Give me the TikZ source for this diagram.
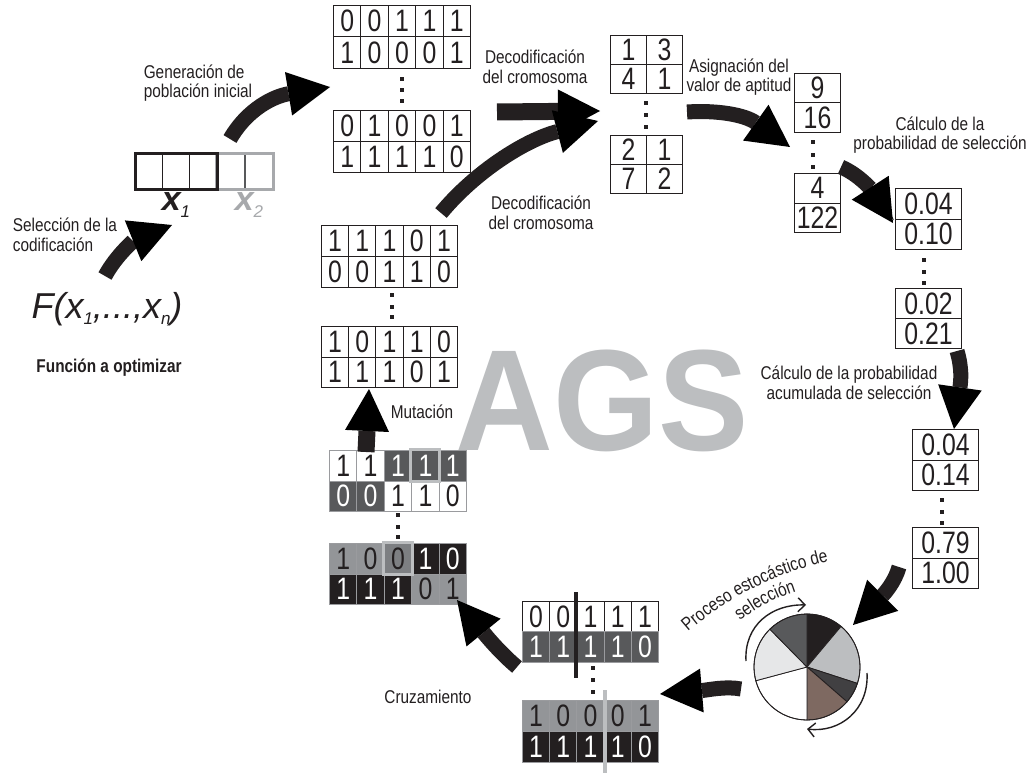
\documentclass[tikz,border=0pt]{standalone}
\usepackage{fontspec}
\setmainfont{Liberation Sans}
\newfontfamily\nfont[FakeStretch=0.83]{Liberation Sans}
\newfontfamily\dfont[FakeStretch=0.8]{Liberation Sans}
\newfontfamily\agsfont[FakeStretch=0.94]{Liberation Sans}
\usetikzlibrary{arrows.meta,decorations.text}

\definecolor{ink}{HTML}{231F20}
\definecolor{cellgray}{HTML}{939598}
\definecolor{celldark}{HTML}{58595B}
\definecolor{markgray}{HTML}{7D7F82}
\definecolor{agsgray}{HTML}{BCBEC0}
\definecolor{palegray}{HTML}{E6E7E8}
\definecolor{slate}{HTML}{414042}
\definecolor{umber}{HTML}{7E6961}
\definecolor{codegray}{HTML}{A7A9AC}
\definecolor{rulegray}{HTML}{9A9B9E}

\newcommand{\lbl}{\nfont\fontsize{18.5}{19.5}\selectfont}
\newcommand{\dgt}{\dfont\fontsize{31}{31}\selectfont}

% a row of white cells: name, x, y, cell width, cell height, digits
\newcommand{\plainrow}[6]{%
  \foreach \dg [count=\i] in {#6}{%
    \node[bitcell, minimum width=#4pt, minimum height=#5pt] (#1\i) at ({#2+(\i-1)*#4},#3) {\dg};
  }}
% a row of tinted cells: name, x, y, cell width, cell height, fill/text/digit
\newcommand{\tintrow}[6]{%
  \foreach \fc/\tc/\dg [count=\i] in {#6}{%
    \node[tintcell, fill=\fc, text=\tc, minimum width=#4pt, minimum height=#5pt] (#1\i) at ({#2+(\i-1)*#4},#3) {\dg};
  }}
% three stacked dots
\newcommand{\dotcol}[4]{%
  \fill[ink] (#1-2,#2-2) rectangle (#1+2,#2+2);
  \fill[ink] (#1-2,#3-2) rectangle (#1+2,#3+2);
  \fill[ink] (#1-2,#4-2) rectangle (#1+2,#4+2);}

\begin{document}
\begin{tikzpicture}[x=1pt,y=-1pt,
  bitcell/.style={draw=ink, line width=1pt, inner sep=0pt, anchor=north west, font=\dgt, text=ink},
  tintcell/.style={bitcell, draw=rulegray},
  lbltext/.style={font=\lbl, text=ink, inner sep=0pt, align=center},
  bigflow/.style={line width=15pt, draw=ink, -{Triangle[length=42pt,width=44pt,line width=0pt]}},
  spinarrow/.style={line width=1.4pt, draw=ink, -{Straight Barb[length=7pt,width=14pt]}},
  piewedge/.style={draw=ink, line width=0.8pt},
]
\fill[white] (0,0) rectangle (1031,773);
\useasboundingbox (0,0) rectangle (1031,773);

% large background title
\node[text=agsgray, font=\agsfont\bfseries\fontsize{144}{144}\selectfont, inner sep=0pt] (ags) at (602,401) {AGS};

% ---------- function and encoding ----------
\node[font=\fontsize{36}{36}\selectfont\itshape, text=ink, inner sep=0pt] (fx) at (107,309)
  {F(x\raisebox{-6pt}{\fontsize{17}{17}\selectfont 1},...,x\raisebox{-6pt}{\fontsize{17}{17}\selectfont n})};
\node[lbltext, font=\lbl\bfseries] (lfun) at (109,368) {Función a optimizar};
\node[lbltext, align=left] (lsel) at (65,235) {Selección de la\\codificación};

\foreach \k in {1,2,3}{\node[bitcell, minimum width=27pt, minimum height=34pt] (gx\k) at ({135+(\k-1)*27},154) {};}
\foreach \k in {4,5}{\node[bitcell, draw=celldark, minimum width=28pt, minimum height=34pt] (gx\k) at ({216+(\k-4)*28.5},154) {};}
\draw[codegray, line width=3pt] (gx4.north west) rectangle (gx5.south east);
\draw[ink, line width=3pt] (gx1.north west) rectangle (gx3.south east);
\node[font=\fontsize{34}{34}\selectfont\bfseries\itshape, text=ink, inner sep=0pt] (xa) at (176,205)
  {x\raisebox{-7pt}{\fontsize{17}{17}\selectfont\mdseries 1}};
\node[font=\fontsize{34}{34}\selectfont\bfseries\itshape, text=codegray, inner sep=0pt] (xb) at (249,205)
  {x\raisebox{-7pt}{\fontsize{17}{17}\selectfont\mdseries 2}};

\node[lbltext, align=left] (lgen) at (198,83) {Generación de\\población inicial};

% ---------- initial population ----------
\plainrow{pa}{333}{5}{27.4}{31.5}{0,0,1,1,1}
\plainrow{pb}{333}{36.5}{27.4}{31.5}{1,0,0,0,1}
\dotcol{402}{79}{90}{101}
\plainrow{pc}{333}{110}{27.4}{31}{0,1,0,0,1}
\plainrow{pd}{333}{141}{27.4}{31}{1,1,1,1,0}

\node[lbltext] (ldecA) at (535,67) {Decodificación\\del cromosoma};
\node[lbltext] (ldecB) at (541,213) {Decodificación\\del cromosoma};

% ---------- decoded values ----------
\plainrow{da}{610}{35}{36}{29}{1,3}
\plainrow{db}{610}{64}{36}{29}{4,1}
\dotcol{646}{103}{115}{127}
\plainrow{dc}{610}{135}{36}{29}{2,1}
\plainrow{dd}{610}{164}{36}{29}{7,2}

\node[lbltext] (lasg) at (739,77) {Asignación del\\valor de aptitud};

% ---------- fitness ----------
\plainrow{fa}{794}{73}{46}{29.5}{9}
\plainrow{fb}{794}{102.5}{46}{29.5}{16}
\dotcol{813}{142}{155}{167}
\plainrow{fc}{794}{173}{46}{29.5}{4}
\plainrow{fd}{794}{202.5}{46}{29.5}{122}

\node[lbltext] (lprb) at (940,135) {Cálculo de la\\probabilidad de selección};

% ---------- selection probability ----------
\plainrow{ra}{895}{188}{66}{30.5}{0.04}
\plainrow{rb}{895}{218.5}{66}{30.5}{0.10}
\dotcol{924}{260}{272}{283}
\plainrow{rc}{895}{288}{66}{30}{0.02}
\plainrow{rd}{895}{318}{66}{30}{0.21}

\node[lbltext] (lcum) at (849,383) {Cálculo de la probabilidad\\acumulada de selección};

% ---------- cumulative probability ----------
\plainrow{ca}{912}{429}{66}{30.5}{0.04}
\plainrow{cb}{912}{459.5}{66}{30.5}{0.14}
\dotcol{942}{500}{512}{523}
\plainrow{cc}{912}{527}{66}{30.5}{0.79}
\plainrow{cd}{912}{557.5}{66}{30.5}{1.00}

% ---------- roulette wheel ----------
\coordinate (pc) at (807,667);
\filldraw[piewedge, fill=ink] (pc) -- ([shift={(-90:53)}]pc) arc[start angle=-90, end angle=-50, radius=53] -- cycle;
\filldraw[piewedge, fill=agsgray] (pc) -- ([shift={(-50:53)}]pc) arc[start angle=-50, end angle=18, radius=53] -- cycle;
\filldraw[piewedge, fill=slate] (pc) -- ([shift={(18:53)}]pc) arc[start angle=18, end angle=41, radius=53] -- cycle;
\filldraw[piewedge, fill=umber] (pc) -- ([shift={(41:53)}]pc) arc[start angle=41, end angle=90, radius=53] -- cycle;
\filldraw[piewedge, fill=white] (pc) -- ([shift={(90:53)}]pc) arc[start angle=90, end angle=165, radius=53] -- cycle;
\filldraw[piewedge, fill=palegray] (pc) -- ([shift={(165:53)}]pc) arc[start angle=165, end angle=225.5, radius=53] -- cycle;
\filldraw[piewedge, fill=celldark] (pc) -- ([shift={(225.5:53)}]pc) arc[start angle=225.5, end angle=270, radius=53] -- cycle;
\draw[piewedge] (pc) circle[radius=53];
\draw[spinarrow] (746,661) .. controls (744,625) and (772,604) .. (806,605);
\draw[spinarrow] (867,673) .. controls (869,710) and (840,733) .. (807,729);

\path[decorate, decoration={text along path, text color=ink, text={|\lbl|Proceso estocástico de}, text align=left}]
  (688,632) .. controls (724,600) and (782,567) .. (848,558);
\path[decorate, decoration={text along path, text color=ink, text={|\lbl|selección}, text align=left}]
  (740,621) .. controls (760,606) and (780,595) .. (808,588);

% ---------- crossover ----------
\plainrow{xa}{522}{601}{27.2}{30}{0,0,1,1,1}
\tintrow{xb}{522}{631}{27.2}{31}{celldark/white/1,celldark/white/1,celldark/white/1,celldark/white/1,celldark/white/0}
\dotcol{593}{668}{680}{692}
\tintrow{xc}{522}{700}{27.2}{30.5}{cellgray/ink/1,cellgray/ink/0,cellgray/ink/0,cellgray/ink/0,cellgray/ink/1}
\tintrow{xd}{522}{730.5}{27.2}{31}{ink/white/1,ink/white/1,ink/white/1,ink/white/1,ink/white/0}
\draw[ink, line width=4pt] (576,592) -- (576,678);
\draw[agsgray, line width=4pt] (605,690) -- (605,773);
\node[lbltext] (lcruz) at (428,697) {Cruzamiento};

% ---------- mutation ----------
\tintrow{ma}{329}{450}{27.4}{30.5}{white/ink/1,white/ink/1,celldark/white/1,celldark/white/1,celldark/white/1}
\tintrow{mb}{329}{480.5}{27.4}{30.5}{celldark/white/0,celldark/white/0,white/ink/1,white/ink/1,white/ink/0}
\dotcol{398}{515}{527}{537}
\tintrow{mc}{329}{543}{27.4}{30.5}{cellgray/ink/1,cellgray/ink/0,markgray/ink/0,ink/white/1,ink/white/0}
\tintrow{md}{329}{573.5}{27.4}{30.5}{ink/white/1,ink/white/1,ink/white/1,cellgray/ink/0,cellgray/ink/1}
\node[draw=agsgray, line width=3pt, minimum width=29pt, minimum height=32pt, inner sep=0pt] (hla) at (ma4.center) {};
\node[draw=agsgray, line width=3pt, minimum width=29pt, minimum height=32pt, inner sep=0pt] (hlb) at (mc3.center) {};
\node[lbltext] (lmut) at (422,412) {Mutación};

% ---------- new population ----------
\plainrow{na}{321}{225}{27.2}{31}{1,1,1,0,1}
\plainrow{nb}{321}{256}{27.2}{31}{0,0,1,1,0}
\dotcol{392}{295}{307}{317}
\plainrow{nc}{321}{326}{27.2}{30.5}{1,0,1,1,0}
\plainrow{nd}{321}{356.5}{27.2}{30.5}{1,1,1,0,1}

% ---------- process arrows ----------
\coordinate (selS) at (105,276);  \coordinate (selE) at (172,225);
\coordinate (genS) at (230,139);  \coordinate (genE) at (330,87);
\coordinate (decS) at (497,112);  \coordinate (decE) at (600,111);
\coordinate (dnwS) at (441,213);  \coordinate (dnwE) at (598,121);
\coordinate (asgS) at (687,112);  \coordinate (asgE) at (790,147);
\coordinate (prbS) at (841,167);  \coordinate (prbE) at (893,223);
\coordinate (cumS) at (957,351);  \coordinate (cumE) at (954,429);
\coordinate (rouS) at (899,567);  \coordinate (rouE) at (853,625);
\coordinate (crsS) at (741,689);  \coordinate (crsE) at (660,694);
\coordinate (mtsS) at (517,667);  \coordinate (mtsE) at (457,600);
\coordinate (mutS) at (366,452);  \coordinate (mutE) at (369,389);

\draw[bigflow] (selS) .. controls (117,254) and (135,240) .. (selE);
\draw[bigflow] (genS) .. controls (248,108) and (275,96) .. (genE);
\draw[bigflow, line width=17pt] (decS) -- (decE);
\draw[bigflow] (dnwS) .. controls (475,172) and (525,140) .. (dnwE);
\draw[bigflow] (asgS) .. controls (718,110) and (745,115) .. (asgE);
\draw[bigflow] (prbS) .. controls (860,175) and (873,192) .. (prbE);
\draw[bigflow] (cumS) .. controls (962,368) and (961,380) .. (cumE);
\draw[bigflow] (rouS) .. controls (895,582) and (884,594) .. (rouE);
\draw[bigflow] (crsS) .. controls (726,686) and (708,690) .. (crsE);
\draw[bigflow] (mtsS) .. controls (505,657) and (492,643) .. (mtsE);
\draw[bigflow, line width=17pt] (mutS) -- (mutE);
\end{tikzpicture}
\end{document}
